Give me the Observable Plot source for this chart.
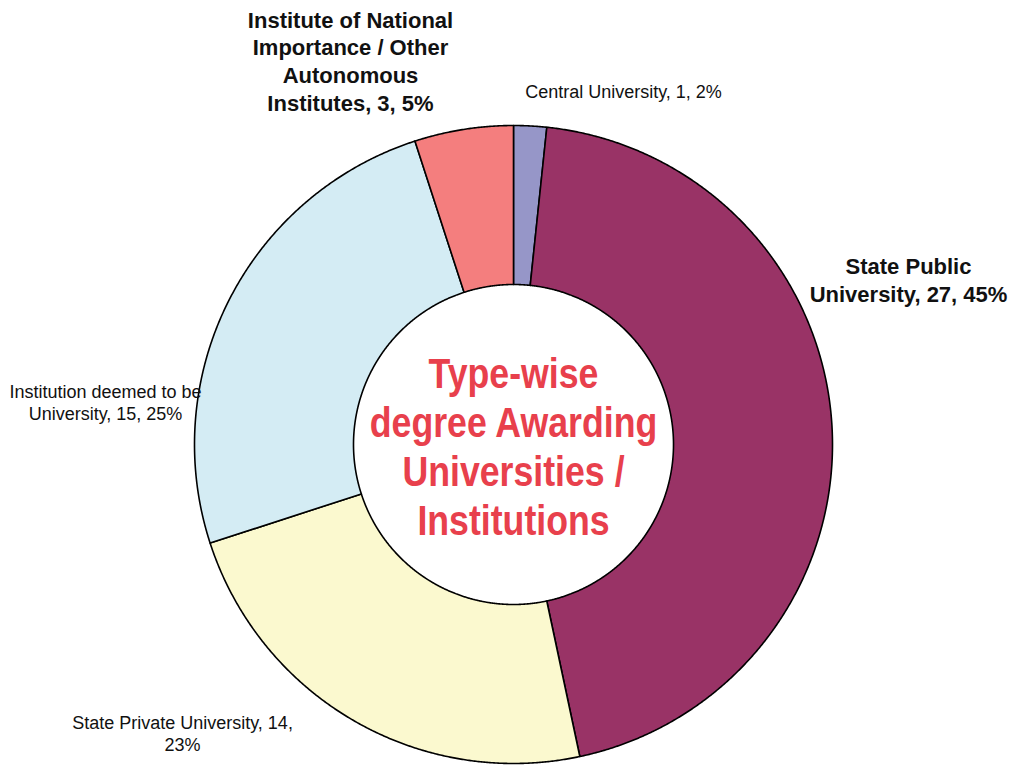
<!DOCTYPE html>
<html>
<head>
<meta charset="utf-8">
<script src="https://cdn.jsdelivr.net/npm/d3@7"></script>
<script src="https://cdn.jsdelivr.net/npm/@observablehq/plot@0.6"></script>
<style>
  html, body { margin: 0; padding: 0; background: #fff; }
</style>
</head>
<body>
<div id="chart"></div>
<script>
// ---- data ----
const categories = [
  "Central University",
  "State Public University",
  "State Private University",
  "Institution deemed to be University",
  "Institute of National Importance / Other Autonomous Institutes"
];
const counts = [1, 27, 14, 15, 3];
const percents = [2, 45, 23, 25, 5];
// label text with line breaks as in the reference
const labelLines = [
  ["Central University, 1, 2%"],
  ["State Public", "University, 27, 45%"],
  ["State Private University, 14,", "23%"],
  ["Institution deemed to be", "University, 15, 25%"],
  ["Institute of National", "Importance / Other", "Autonomous", "Institutes, 3, 5%"]
];
const centerTitle = ["Type-wise", "degree Awarding", "Universities /", "Institutions"];

// ---- styles / layout ----
const sliceColors = ["#9696c8", "#993366", "#fbf9cf", "#d4ecf4", "#f47e7e"];
const W = 1014, H = 765;
const cx = 513, cy = 444, R = 319, innerRatio = 160 / 319;
// label anchors (pixel positions of block centres) and styles
const labelLayout = [
  {px: 623, py: 90,  bold: false},
  {px: 908, py: 279, bold: true},
  {px: 182, py: 732, bold: false},
  {px: 105, py: 401, bold: false},
  {px: 350, py: 60,  bold: true}
];

const toX = px => (px - cx) / R;
const toY = py => (cy - py) / R;

// ---- geometry from data ----
const arcs = d3.pie().sort(null).value(d => d)(counts);
const step = Math.PI / 720;
const slices = arcs.map((a, i) => {
  const pts = [];
  const n = Math.max(2, Math.ceil((a.endAngle - a.startAngle) / step));
  for (let j = 0; j <= n; j++) {
    const t = a.startAngle + (a.endAngle - a.startAngle) * j / n;
    pts.push({x: Math.sin(t), y: Math.cos(t), cat: categories[i]});
  }
  for (let j = n; j >= 0; j--) {
    const t = a.startAngle + (a.endAngle - a.startAngle) * j / n;
    pts.push({x: innerRatio * Math.sin(t), y: innerRatio * Math.cos(t), cat: categories[i]});
  }
  pts.push(pts[0]);
  return pts;
});

const sliceMarks = slices.map((pts, i) =>
  Plot.line(pts, {x: "x", y: "y", fill: sliceColors[i], stroke: "#000", strokeWidth: 1.6, curve: "linear"})
);

const labelData = categories.map((c, i) => ({
  cat: c, count: counts[i], pct: percents[i],
  text: labelLines[i].join("\n"),
  x: toX(labelLayout[i].px), y: toY(labelLayout[i].py), bold: labelLayout[i].bold
}));

const chart = Plot.plot({
  width: W,
  height: H,
  margin: 0,
  x: {domain: [toX(0), toX(W)], axis: null},
  y: {domain: [toY(H), toY(0)], axis: null},
  style: {background: "#fff", fontFamily: "'Liberation Sans', Arial, sans-serif"},
  marks: [
    ...sliceMarks,
    Plot.text(labelData.filter(d => !d.bold), {
      x: "x", y: "y", text: "text", fontSize: 18, lineHeight: 1.22,
      fill: "#111", textAnchor: "middle"
    }),
    Plot.text(labelData.filter(d => d.bold), {
      x: "x", y: "y", text: "text", fontSize: 22, lineHeight: 1.27,
      fontWeight: "bold", fill: "#111", textAnchor: "middle"
    }),
    Plot.text([centerTitle.join("\n")], {
      x: () => toX(513), y: () => toY(445), text: d => d,
      fontSize: 43, lineHeight: 1.14, fontWeight: "bold",
      fontFamily: "'Liberation Sans', Arial, sans-serif",
      fill: "#e8404c", textAnchor: "middle", className: "center-title"
    })
  ]
});
// narrow the centre title like a condensed typeface
d3.select(chart).selectAll(".center-title text").each(function() {
  const t = this.getAttribute("transform") || "";
  this.setAttribute("transform", t + " scale(0.83,1)");
});
document.getElementById("chart").appendChild(chart);
</script>
</body>
</html>
